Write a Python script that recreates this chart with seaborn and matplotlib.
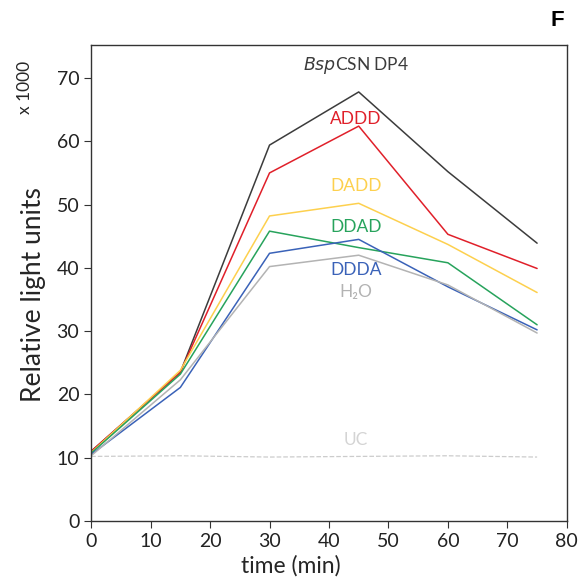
import pandas as pd
import matplotlib.pyplot as plt
import seaborn as sns

# data (RLU x 1000)
time_min = [0, 15, 30, 45, 60, 75]
bsp_dp4 = [11.0, 23.5, 59.4, 67.8, 55.2, 43.9]
addd = [11.0, 23.5, 55.0, 62.4, 45.3, 39.9]
dadd = [10.8, 23.8, 48.2, 50.2, 43.7, 36.1]
ddad = [10.7, 23.2, 45.8, 43.2, 40.8, 31.0]
ddda = [10.5, 21.1, 42.3, 44.5, 37.0, 30.2]
h2o = [10.3, 22.3, 40.2, 42.0, 37.3, 29.7]
uc = [10.2, 10.3, 10.1, 10.2, 10.3, 10.1]

series_names = ['BspCSN DP4', 'ADDD', 'DADD', 'DDAD', 'DDDA', 'H2O']
series_vals = [bsp_dp4, addd, dadd, ddad, ddda, h2o]
colors = ['#3c3c3c', '#e0202a', '#fdd04e', '#27a35c', '#3a62b8', '#b3b3b3']

rows = []
for name, vals in zip(series_names, series_vals):
    for t, v in zip(time_min, vals):
        rows.append({'time': t, 'rlu': v, 'sample': name})
df = pd.DataFrame(rows)
df_uc = pd.DataFrame({'time': time_min, 'rlu': uc})

sns.set_style('ticks')
plt.rcParams['font.family'] = ['Lato', 'DejaVu Sans']

fig = plt.figure(figsize=(5.88, 5.86), dpi=100)
ax = fig.add_axes([0.155, 0.111, 0.809, 0.812])

sns.lineplot(data=df, x='time', y='rlu', hue='sample', palette=colors,
             hue_order=series_names, linewidth=1.1, legend=False, ax=ax)
sns.lineplot(data=df_uc, x='time', y='rlu', color='#cccccc', linewidth=0.9,
             linestyle='--', ax=ax)

# series labels
lab_y = [72.0, 63.6, 53.0, 46.4, 39.6, 36.2]
lab_txt = [r'$\it{Bsp}$CSN DP4', 'ADDD', 'DADD', 'DDAD', 'DDDA', 'H₂O']
for txt, y, c in zip(lab_txt, lab_y, colors):
    ax.text(44.5, y, txt, color=c, fontsize=12.5, ha='center', va='center')
ax.text(44.5, 12.8, 'UC', color='#d4d4d4', fontsize=12.5, ha='center', va='center')

ax.set_xlim(0, 80)
ax.set_ylim(0, 75.2)
ax.set_xticks(range(0, 81, 10))
ax.set_yticks(range(0, 71, 10))
ax.tick_params(labelsize=14, length=5, color='#333333', labelcolor='#222222')
ax.set_xlabel('time (min)', fontsize=16.5)
ax.set_ylabel('Relative light units', fontsize=19)
ax.xaxis.set_label_coords(0.42, -0.072)
ax.yaxis.set_label_coords(-0.095, 0.475)
for s in ax.spines.values():
    s.set_color('#333333')
    s.set_linewidth(1.0)

fig.text(0.043, 0.85, 'x 1000', rotation=90, fontsize=12.5, ha='center', va='center')
fig.text(0.948, 0.965, 'F', fontsize=16, fontweight='bold', ha='center', va='center',
         family='Liberation Sans', color='black')

plt.savefig('out.png', dpi=100)
